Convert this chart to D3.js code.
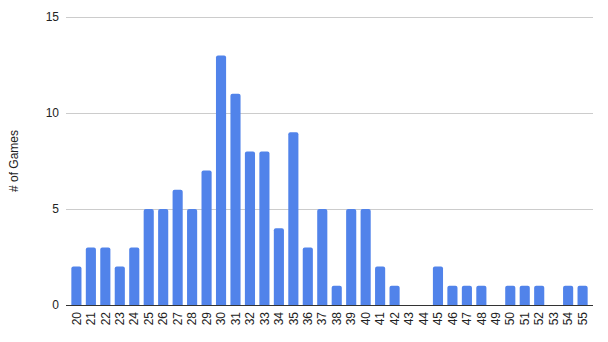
<!DOCTYPE html>
<html><head><meta charset="utf-8">
<script src="https://cdn.jsdelivr.net/npm/d3@7"></script>
<style>body{margin:0;background:#fff}text{font-family:"Liberation Sans",Arial,sans-serif}</style>
</head><body><svg id="c" width="608" height="342"></svg>
<script>
const categories = ["20","21","22","23","24","25","26","27","28","29","30","31","32","33","34","35","36","37","38","39","40","41","42","43","44","45","46","47","48","49","50","51","52","53","54","55"];
const games = [2,3,3,2,3,5,5,6,5,7,13,11,8,8,4,9,3,5,1,5,5,2,1,0,0,2,1,1,1,0,1,1,1,0,1,1];
const yTicks = [0,5,10,15];
const yTitle = "# of Games";

const svg = d3.select("#c");
const m = {left:66, right:15, top:17, bottom:37};
const W = 608, H = 342;
const x = d3.scaleBand().domain(categories).range([m.left, W-m.right]).paddingInner(0.3).paddingOuter(0.37);
const y = d3.scaleLinear().domain([0,15]).range([H-m.bottom, m.top]);

// gridlines
svg.append("g").selectAll("line").data(yTicks.filter(d=>d>0)).join("line")
  .attr("x1", m.left).attr("x2", W-m.right)
  .attr("y1", d=>y(d)+0.5).attr("y2", d=>y(d)+0.5)
  .attr("stroke","#cccccc").attr("stroke-width",1);

// y axis labels
const ya = svg.append("g").attr("transform",`translate(${m.left},0)`)
  .call(d3.axisLeft(y).tickValues(yTicks).tickSize(0).tickPadding(7).tickFormat(d3.format("d")));
ya.select(".domain").remove();
ya.selectAll("text").attr("font-size",12).attr("fill","#222").attr("font-family","Liberation Sans, Arial, sans-serif");

// bars
const r = 2;
svg.append("g").selectAll("path").data(games.map((v,i)=>({c:categories[i],v}))).join("path")
  .attr("fill","#5183ea")
  .attr("d", d=>{
    if (d.v<=0) return "";
    const x0 = x(d.c), w = x.bandwidth(), y0 = y(d.v), yb = y(0);
    return `M${x0},${yb}V${y0+r}Q${x0},${y0} ${x0+r},${y0}H${x0+w-r}Q${x0+w},${y0} ${x0+w},${y0+r}V${yb}Z`;
  });

// baseline
svg.append("line").attr("x1",m.left).attr("x2",W-m.right)
  .attr("y1",y(0)+0.5).attr("y2",y(0)+0.5).attr("stroke","#333").attr("stroke-width",1);

// x axis
const xa = svg.append("g").attr("transform",`translate(0,${y(0)})`)
  .call(d3.axisBottom(x).tickSize(0).tickPadding(0));
xa.select(".domain").remove();
xa.selectAll("text")
  .attr("font-size",12).attr("fill","#222").attr("font-family","Liberation Sans, Arial, sans-serif")
  .attr("text-anchor","end").attr("dy","0.35em")
  .attr("transform","translate(0,7) rotate(-90)").attr("x",0).attr("y",0);

// y title
svg.append("text").attr("transform",`translate(18,${(m.top+H-m.bottom)/2}) rotate(-90)`)
  .attr("text-anchor","middle").attr("font-size",12).attr("fill","#222").text(yTitle);
</script></body></html>
